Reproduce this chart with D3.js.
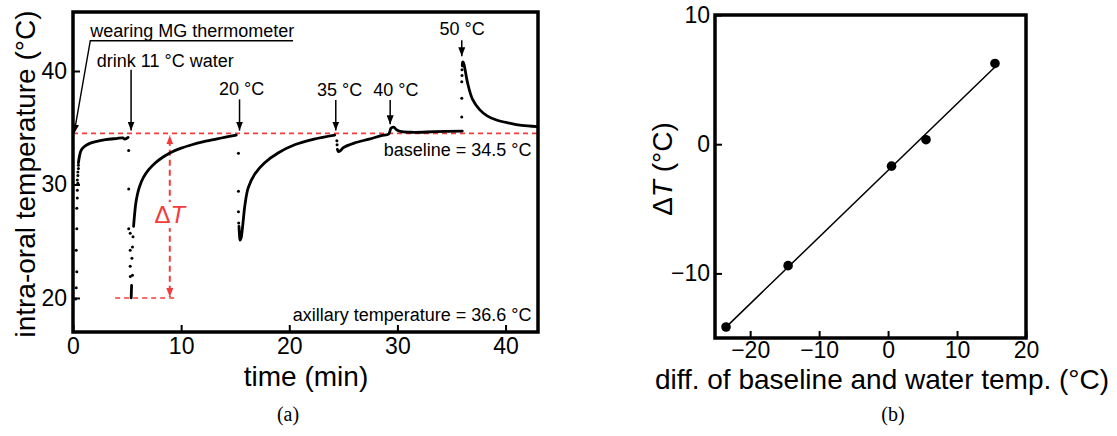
<!DOCTYPE html>
<html>
<head>
<meta charset="utf-8">
<script src="https://d3js.org/d3.v7.min.js"></script>
<style>
body { margin: 0; background: #fff; }
svg text { font-family: "Liberation Sans", Arial, sans-serif; fill: #000; }
</style>
</head>
<body>
<svg id="fig" width="1117" height="436"></svg>
<script>
// ---------- (a) intra-oral temperature trace, [time (min), temp (°C)] ----------
let wearDots = [[0.25,19.9],[0.3,20.9],[0.35,22.3],[0.3,24.2],[0.35,26.1],[0.35,27.9],[0.4,28.8],
  [0.4,29.5],[0.45,30.1],[0.4,30.4],[0.45,30.8],[0.45,31.1],[0.5,31.4],[0.5,31.7]];
let wearLine = [[0.5,31.9],[0.6,32.5],[0.75,33.0],[1.0,33.3],[1.5,33.6],[2.0,33.75],[3.0,33.95],
  [4.0,34.05],[4.6,34.1],[4.8,34.0],[5.1,34.15]];
let drink11Dots = [[5.15,33.0],[5.15,29.6],[5.15,26.1],[5.29,25.7],[5.55,25.4],[5.5,24.5],[5.29,24.2],
  [5.45,23.5],[5.29,22.8],[5.5,22.0],[5.3,21.9]];
let drink11Low = [[5.38,20.0],[5.4,20.6],[5.42,21.1]];
let drink11Line = [[5.6,26.3],[5.7,27.4],[5.8,28.3],[5.95,29.1],[6.15,29.8],[6.5,30.6],[7.0,31.3],
  [7.6,31.9],[8.3,32.4],[9.0,32.8],[10.0,33.2],[11.0,33.5],[12.0,33.75],[13.0,33.95],[14.0,34.15],[15.1,34.35]];
let water20Dots = [[15.3,32.75],[15.3,29.4],[15.3,27.6],[15.32,26.6]];
let water20Line = [[15.35,26.3],[15.4,25.5],[15.45,25.1],[15.55,25.3],[15.65,26.0],[15.75,26.9],[15.9,28.2],
  [16.2,29.7],[16.8,30.9],[17.7,31.9],[19.0,32.8],[20.5,33.5],[22.3,34.0],[24.2,34.35]];
let water35Dots = [[24.4,33.85],[24.42,33.5]];
let water35Line = [[24.45,33.1],[24.55,32.9],[24.75,33.0],[25.0,33.25],[26.0,33.65],[27.4,34.0],[28.5,34.3],
  [29.2,34.45],[29.4,34.95],[29.65,35.05],[29.95,34.8],[30.4,34.65],[31.5,34.6],[33.5,34.65],[36.0,34.7]];
let water50Dots = [[35.95,35.95],[35.95,37.6],[35.95,39.05],[35.97,39.6],[35.97,40.1]];
let water50Line = [[36.0,40.45],[36.03,40.8],[36.1,40.75],[36.2,40.4],[36.5,38.9],[36.95,37.5],[37.6,36.6],
  [38.3,36.05],[39.1,35.7],[40.35,35.4],[41.5,35.2],[42.9,35.1]];

let eventTime = [5.37, 15.4, 24.3, 29.33, 35.95];
let eventLabel = ["drink 11 °C water", "20 °C", "35 °C", "40 °C", "50 °C"];
let eventLabelT = [2.2, 15.6, 24.65, 29.85, 35.98];   // label x (min)
let eventLabelY = [40.88, 38.41, 38.3, 38.3, 43.7];   // label y (°C)
let eventArrowTop = [40.1, 37.5, 37.45, 37.45, 42.7];
let eventArrowEnd = [34.75, 34.75, 34.75, 35.3, 41.3];

let baselineTemp = 34.5;
let minTemp = 20;          // lowest point after 11 °C water
let deltaTTime = 8.95;
let axillaryTemp = 36.6;

let timeTicks = [0, 10, 20, 30, 40];
let tempTicks = [20, 30, 40];

// ---------- (b) ΔT vs (water − baseline) ----------
let diffTemp = [-23.5, -14.5, 0.5, 5.5, 15.5];
let deltaT = [-14.15, -9.4, -1.7, 0.35, 6.25];
let diffTicks = [-20, -10, 0, 10, 20];
let deltaTicks = [-10, 0, 10];

let svg = d3.select("#fig");
let red = "#f23c3c";

let defs = svg.append("defs");
function marker(id, color) {
  defs.append("marker")
    .attr("id", id)
    .attr("viewBox", "0 0 10 10")
    .attr("refX", 10).attr("refY", 5)
    .attr("markerWidth", 9).attr("markerHeight", 7)
    .attr("markerUnits", "userSpaceOnUse")
    .attr("preserveAspectRatio", "none")
    .attr("orient", "auto")
    .append("path").attr("d", "M0,0L10,5L0,10z").attr("fill", color);
}
marker("ah", "#000");
marker("ahr", red);

// ================= panel (a) =================
let x = d3.scaleLinear().domain([0, 43]).range([73, 538]);
let y = d3.scaleLinear().domain([17, 45.2]).range([332, 12]);
let ga = svg.append("g");

ga.append("g")
  .attr("transform", "translate(0,332)")
  .call(d3.axisBottom(x).tickValues(timeTicks).tickSizeInner(-7).tickSizeOuter(0).tickPadding(6))
  .call(g => g.select(".domain").remove())
  .call(g => g.selectAll("line").attr("stroke-width", 2))
  .call(g => g.selectAll("text").attr("font-size", 23).attr("font-family", null));

ga.append("g")
  .attr("transform", "translate(73,0)")
  .call(d3.axisLeft(y).tickValues(tempTicks).tickSizeInner(-7).tickSizeOuter(0).tickPadding(6))
  .call(g => g.select(".domain").remove())
  .call(g => g.selectAll("line").attr("stroke-width", 2))
  .call(g => g.selectAll("text").attr("font-size", 23).attr("font-family", null));

// baseline & lower reference
ga.append("line")
  .attr("x1", x(0)).attr("x2", x(43))
  .attr("y1", y(baselineTemp)).attr("y2", y(baselineTemp))
  .attr("stroke", red).attr("stroke-width", 1.6).attr("stroke-dasharray", "5,4");
ga.append("line")
  .attr("x1", x(3.9)).attr("x2", x(9.6))
  .attr("y1", y(minTemp)).attr("y2", y(minTemp))
  .attr("stroke", red).attr("stroke-width", 1.6).attr("stroke-dasharray", "5,4");

// ΔT arrow
let dtMid = (y(baselineTemp) + y(minTemp)) / 2;
ga.append("line")
  .attr("x1", x(deltaTTime)).attr("x2", x(deltaTTime))
  .attr("y1", dtMid).attr("y2", y(baselineTemp) + 2)
  .attr("stroke", red).attr("stroke-width", 2).attr("stroke-dasharray", "6,4")
  .attr("marker-end", "url(#ahr)");
ga.append("line")
  .attr("x1", x(deltaTTime)).attr("x2", x(deltaTTime))
  .attr("y1", dtMid).attr("y2", y(minTemp) - 1)
  .attr("stroke", red).attr("stroke-width", 2).attr("stroke-dasharray", "6,4")
  .attr("marker-end", "url(#ahr)");
ga.append("rect")
  .attr("x", x(deltaTTime) - 18).attr("y", y(27.3) - 13)
  .attr("width", 36).attr("height", 26).attr("fill", "#fff");
let dt = ga.append("text")
  .attr("x", x(deltaTTime)).attr("y", y(27.3) + 8)
  .attr("text-anchor", "middle").attr("font-size", 24).style("fill", red);
dt.append("tspan").text("Δ");
dt.append("tspan").attr("font-style", "italic").text("T");

// trace
let line = d3.line().x(d => x(d[0])).y(d => y(d[1])).curve(d3.curveCatmullRom.alpha(0.5));
[wearLine, drink11Low, drink11Line, water20Line, water35Line, water50Line].forEach(seg => {
  ga.append("path").attr("d", line(seg))
    .attr("fill", "none").attr("stroke", "#000").attr("stroke-width", 2.8)
    .attr("stroke-linecap", "round").attr("stroke-linejoin", "round");
});
let dots = [].concat(wearDots, drink11Dots, water20Dots, water35Dots, water50Dots);
ga.append("g").selectAll("circle").data(dots).join("circle")
  .attr("cx", d => x(d[0])).attr("cy", d => y(d[1])).attr("r", 1.5).attr("fill", "#000");

// event arrows and labels
ga.append("g").selectAll("line").data(eventTime).join("line")
  .attr("x1", d => x(d)).attr("x2", d => x(d))
  .attr("y1", (d, i) => y(eventArrowTop[i])).attr("y2", (d, i) => y(eventArrowEnd[i]))
  .attr("stroke", "#000").attr("stroke-width", 1.5).attr("marker-end", "url(#ah)");
ga.append("g").selectAll("text").data(eventLabel).join("text")
  .attr("x", (d, i) => x(eventLabelT[i]))
  .attr("y", (d, i) => y(eventLabelY[i]) + 6)
  .attr("text-anchor", (d, i) => i === 0 ? "start" : "middle")
  .attr("font-size", 18)
  .text(d => d);

// wearing annotation
ga.append("text").attr("x", x(1.6)).attr("y", y(42.67) - 3.5)
  .attr("font-size", 18).text("wearing MG thermometer");
ga.append("polyline")
  .attr("points", [[x(20.35), y(42.67)], [x(1.6), y(42.67)], [x(0.1), y(baselineTemp)]].join(" "))
  .attr("fill", "none").attr("stroke", "#000").attr("stroke-width", 1.4)
  .attr("marker-end", "url(#ah)");

ga.append("text").attr("x", x(42.4)).attr("y", y(baselineTemp) + 23)
  .attr("text-anchor", "end").attr("font-size", 18).text("baseline = " + baselineTemp + " °C");
ga.append("text").attr("x", x(42.4)).attr("y", y(18.0))
  .attr("text-anchor", "end").attr("font-size", 18).text("axillary temperature = " + axillaryTemp + " °C");

ga.append("rect").attr("x", 73).attr("y", 12).attr("width", 465).attr("height", 320)
  .attr("fill", "none").attr("stroke", "#000").attr("stroke-width", 3.5);

ga.append("text").attr("transform", "translate(35,174) rotate(-90)")
  .attr("text-anchor", "middle").attr("font-size", 28).text("intra-oral temperature (°C)");
ga.append("text").attr("x", 306).attr("y", 386)
  .attr("text-anchor", "middle").attr("font-size", 28).text("time (min)");
ga.append("text").attr("x", 288).attr("y", 421)
  .attr("text-anchor", "middle").attr("font-size", 20)
  .style("font-family", "'Liberation Serif', 'Times New Roman', serif").text("(a)");

// ================= panel (b) =================
let xb = d3.scaleLinear().domain([-25.1, 20]).range([715, 1026]);
let yb = d3.scaleLinear().domain([-15, 10]).range([338, 15]);
let gb = svg.append("g");

gb.append("g")
  .attr("transform", "translate(0,338)")
  .call(d3.axisBottom(xb).tickValues(diffTicks).tickSizeInner(-7).tickSizeOuter(0).tickPadding(4))
  .call(g => g.select(".domain").remove())
  .call(g => g.selectAll("line").attr("stroke-width", 2))
  .call(g => g.selectAll("text").attr("font-size", 23).attr("font-family", null));
gb.append("g")
  .attr("transform", "translate(715,0)")
  .call(d3.axisLeft(yb).tickValues(deltaTicks).tickSizeInner(-7).tickSizeOuter(0).tickPadding(5))
  .call(g => g.select(".domain").remove())
  .call(g => g.selectAll("line").attr("stroke-width", 2))
  .call(g => g.selectAll("text").attr("font-size", 23).attr("font-family", null));

// least-squares fit
let mx = d3.mean(diffTemp), my = d3.mean(deltaT);
let sxy = d3.sum(diffTemp, (d, i) => (d - mx) * (deltaT[i] - my));
let sxx = d3.sum(diffTemp, d => (d - mx) * (d - mx));
let slope = sxy / sxx, icpt = my - slope * mx;
let fitX = d3.extent(diffTemp);
gb.append("line")
  .attr("x1", xb(fitX[0])).attr("y1", yb(icpt + slope * fitX[0]))
  .attr("x2", xb(fitX[1])).attr("y2", yb(icpt + slope * fitX[1]))
  .attr("stroke", "#000").attr("stroke-width", 1.5);

gb.append("g").selectAll("circle").data(diffTemp).join("circle")
  .attr("cx", d => xb(d)).attr("cy", (d, i) => yb(deltaT[i])).attr("r", 4.8).attr("fill", "#000");

gb.append("rect").attr("x", 715).attr("y", 15).attr("width", 311).attr("height", 323)
  .attr("fill", "none").attr("stroke", "#000").attr("stroke-width", 3.5);

let yt = gb.append("text").attr("transform", "translate(672,169) rotate(-90)")
  .attr("text-anchor", "middle").attr("font-size", 28);
yt.append("tspan").text("Δ");
yt.append("tspan").attr("font-style", "italic").text("T");
yt.append("tspan").text(" (°C)");
gb.append("text").attr("x", 882).attr("y", 389)
  .attr("text-anchor", "middle").attr("font-size", 28).text("diff. of baseline and water temp. (°C)");
gb.append("text").attr("x", 893).attr("y", 421)
  .attr("text-anchor", "middle").attr("font-size", 20)
  .style("font-family", "'Liberation Serif', 'Times New Roman', serif").text("(b)");
</script>
</body>
</html>
